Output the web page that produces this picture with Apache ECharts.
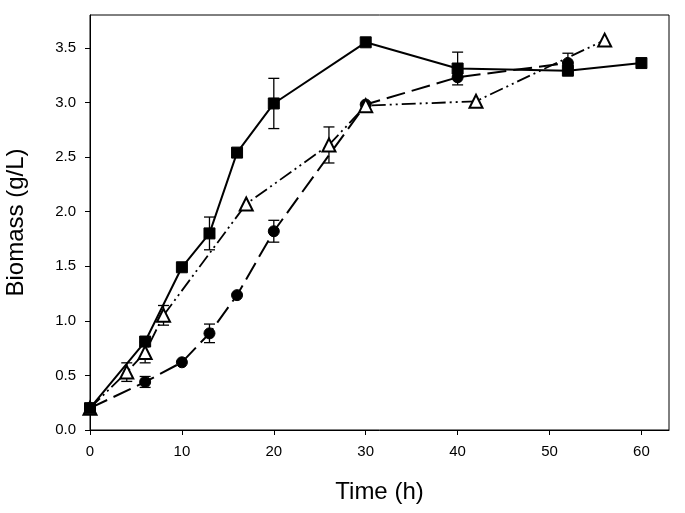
<!DOCTYPE html>
<html><head><meta charset="utf-8">
<script src="https://cdn.jsdelivr.net/npm/echarts@6/dist/echarts.min.js"></script>
<style>html,body{margin:0;padding:0;background:#fff}#c{width:685px;height:513px}</style>
</head><body><div id="c"></div>
<script>
// Series A: filled squares, solid line
const sqX = [0, 6, 10, 13, 16, 20, 30, 40, 52, 60];
const sqY = [0.2, 0.81, 1.49, 1.80, 2.54, 2.99, 3.55, 3.31, 3.29, 3.36];
const sqErr = [0, 0.04, 0, 0.15, 0, 0.23, 0, 0.15, 0, 0];
// Series B: filled circles, long dash
const ciX = [0, 6, 10, 13, 16, 20, 30, 40, 52];
const ciY = [0.2, 0.44, 0.62, 0.885, 1.235, 1.82, 2.98, 3.23, 3.36];
const ciErr = [0, 0.05, 0, 0.085, 0, 0.10, 0, 0, 0.09];
// Series C: open triangles, dash-dot-dot
const trX = [0, 4, 6, 8, 17, 26, 30, 42, 56];
const trY = [0.2, 0.53, 0.71, 1.05, 2.07, 2.61, 2.97, 3.01, 3.57];
const trErr = [0, 0.085, 0.095, 0.09, 0, 0.165, 0, 0, 0];
const yTicks = [0, 0.5, 1.0, 1.5, 2.0, 2.5, 3.0, 3.5];
const xTicks = [0, 10, 20, 30, 40, 50, 60];

function pts(xs, ys){ return xs.map((x,i)=>[x, ys[i]]); }
function errData(xs, ys, es){ const out=[]; xs.forEach((x,i)=>{ if(es[i]>0) out.push([x, ys[i]-es[i], ys[i]+es[i]]); }); return out; }
function errSeries(d){
  return {
    type:'custom', data:d, z:1, silent:true,
    renderItem:function(params, api){
      const x = api.value(0), lo = api.value(1), hi = api.value(2);
      const p1 = api.coord([x, lo]), p2 = api.coord([x, hi]);
      const w = 5.5;
      const st = {stroke:'#000', lineWidth:1.3};
      return {type:'group', children:[
        {type:'line', shape:{x1:p1[0], y1:p1[1], x2:p2[0], y2:p2[1]}, style:st},
        {type:'line', shape:{x1:p1[0]-w, y1:p1[1], x2:p1[0]+w, y2:p1[1]}, style:st},
        {type:'line', shape:{x1:p2[0]-w, y1:p2[1], x2:p2[0]+w, y2:p2[1]}, style:st}
      ]};
    }
  };
}
const font = 'Liberation Sans, Arial, sans-serif';
const chart = echarts.init(document.getElementById('c'), null, {renderer:'canvas'});
chart.setOption({
  animation:false,
  backgroundColor:'#fff',
  grid:{left:90, right:16, top:15, bottom:83, containLabel:false, outerBoundsMode:'none',
    show:true, borderColor:'#000', borderWidth:1, backgroundColor:'transparent'},
  xAxis:{
    type:'value', min:0, max:63,
    name:'Time (h)', nameLocation:'middle', nameGap:50,
    nameTextStyle:{fontFamily:font, fontSize:24, color:'#000'},
    axisLine:{show:true, onZero:false, lineStyle:{color:'#000', width:1}},
    axisTick:{show:true, length:5, customValues:xTicks, lineStyle:{color:'#000'}},
    axisLabel:{fontFamily:font, fontSize:15, color:'#000', margin:14, customValues:xTicks,
      formatter:function(v){ return String(v); }},
    splitLine:{show:false}
  },
  yAxis:{
    type:'value', min:0, max:3.8,
    name:'Biomass (g/L)', nameLocation:'middle', nameGap:62,
    nameTextStyle:{fontFamily:font, fontSize:24, color:'#000'},
    axisLine:{show:true, onZero:false, lineStyle:{color:'#000', width:1}},
    axisTick:{show:true, length:5, customValues:yTicks, lineStyle:{color:'#000'}},
    axisLabel:{fontFamily:font, fontSize:15, color:'#000', margin:14, customValues:yTicks,
      formatter:function(v){ return Number(v).toFixed(1); }},
    splitLine:{show:false}
  },
  series:[
    errSeries(errData(sqX, sqY, sqErr)),
    errSeries(errData(ciX, ciY, ciErr)),
    errSeries(errData(trX, trY, trErr)),
    {type:'line', data:pts(ciX, ciY), symbol:'circle', symbolSize:11, z:3,
      lineStyle:{color:'#000', width:2, type:[19,7]},
      itemStyle:{color:'#000', borderColor:'#000'}},
    {type:'line', data:pts(trX, trY), symbol:'triangle', symbolSize:13, z:4,
      lineStyle:{color:'#000', width:1.8, type:[14,4,2,4,2,4]},
      itemStyle:{color:'#fff', borderColor:'#000', borderWidth:2}},
    {type:'line', data:pts(sqX, sqY), symbol:'rect', symbolSize:11, z:5,
      lineStyle:{color:'#000', width:2, type:'solid'},
      itemStyle:{color:'#000', borderColor:'#000'}}
  ]
});
</script></body></html>
